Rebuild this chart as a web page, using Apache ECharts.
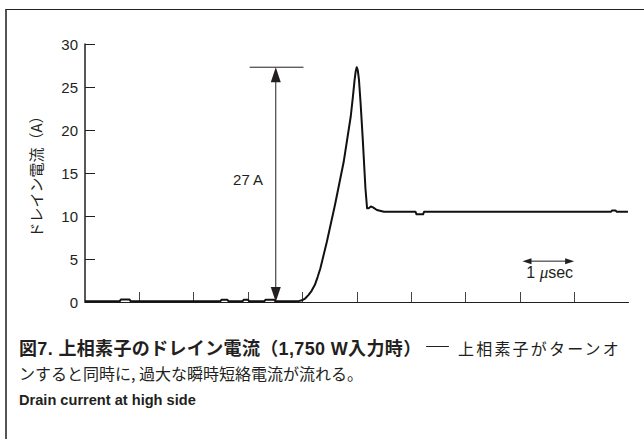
<!DOCTYPE html>
<html>
<head>
<meta charset="utf-8">
<script src="https://cdn.jsdelivr.net/npm/echarts@6/dist/echarts.min.js"></script>
<style>
  html, body { margin: 0; padding: 0; background: #fff; }
  #wrap { position: relative; width: 644px; height: 439px; overflow: hidden; }
  #frame { position: absolute; left: 5px; top: 9px; width: 639px; height: 430px;
           border-top: 1px solid #222; border-left: 2px solid #555; box-sizing: border-box; }
  #chart { position: absolute; left: 0; top: 0; width: 644px; height: 439px; }
  .cap { position: absolute; color: #231f20; white-space: nowrap; }
  #cap1b { left: 19px; top: 334px; font: bold 18px 'Liberation Sans', 'Noto Sans CJK JP', sans-serif; letter-spacing: 0.35px; }
  #cap1d { left: 426px; top: 333px; font: 23px/1 'Liberation Sans', sans-serif; transform: scaleY(0.6); transform-origin: 0 60%; }
  #cap1r { left: 458px; top: 336px; font: 16px 'Noto Sans CJK JP', sans-serif; letter-spacing: 2.2px; }
  #cap2 { left: 19px; top: 361px; font: 16px 'Noto Sans CJK JP', sans-serif; }
  #cap3 { left: 19px; top: 392px; font: bold 14.6px 'Liberation Sans', sans-serif; }
</style>
</head>
<body>
<div id="wrap">
  <div id="frame"></div>
  <div id="chart"></div>
  <div class="cap" id="cap1b">図7. 上相素子のドレイン電流（1,750 W入力時）</div>
  <div class="cap" id="cap1d">—</div>
  <div class="cap" id="cap1r">上相素子がターンオ</div>
  <div class="cap" id="cap2">ンすると同時に, 過大な瞬時短絡電流が流れる。</div>
  <div class="cap" id="cap3">Drain current at high side</div>
</div>
<script>
// ---- data (time in microseconds, current in A) ----
const timeUs = [0, 0.64, 0.66, 0.82, 0.84, 2.49, 2.51, 2.62, 2.64, 2.9, 2.92, 3.0, 3.02, 3.3, 3.32, 3.48, 3.5,
  3.93, 3.99, 4.05, 4.11, 4.17, 4.23, 4.28, 4.33, 4.45, 4.6, 4.76, 4.89, 4.93, 4.96, 4.98, 5.0, 5.02, 5.04,
  5.07, 5.11, 5.16, 5.19, 5.22, 5.26, 5.3, 5.37, 5.5, 6.08, 6.1, 6.22, 6.24, 9.68, 9.7, 9.76, 9.78, 9.99];
const currentA = [0.1, 0.1, 0.3, 0.3, 0.1, 0.1, 0.25, 0.25, 0.1, 0.1, 0.25, 0.25, 0.1, 0.1, 0.25, 0.25, 0.1,
  0.1, 0.2, 0.4, 0.8, 1.3, 2.0, 2.9, 3.9, 7.0, 11.3, 16.3, 21.6, 23.9, 25.8, 26.8, 27.3, 26.9, 25.9,
  23.2, 19.0, 13.2, 10.9, 10.9, 11.1, 11.0, 10.7, 10.5, 10.5, 10.2, 10.2, 10.5, 10.5, 10.65, 10.65, 10.5, 10.5];
const xTickValues = [1, 2, 3, 4, 5, 6, 7, 8, 9];
const yTickValues = [0, 5, 10, 15, 20, 25, 30];

// annotation: 27 A peak arrow  [arrowX, fromY, toY, capStartX, capEndX]
const peakArrow = [[3.51, 0, 27.3, 3.03, 4.02]];
const peakLabel = [[3.0, 14.2, '27 A']];
// annotation: 1 μs scale arrow [startX, endX, y, labelX, labelY]
const scaleArrow = [[8.05, 9.0, 4.75, 8.55, 3.4]];

const ink = '#231f20';
const chart = echarts.init(document.getElementById('chart'), null, { renderer: 'svg' });

function arrowHead(tip, dx, dy, len, half) {
  const bx = tip[0] + dx * len, by = tip[1] + dy * len;
  return [[tip[0], tip[1]], [bx - dy * half, by + dx * half], [bx + dy * half, by - dx * half]];
}

chart.setOption({
  animation: false,
  grid: { left: 85, right: 15.5, top: 44, bottom: 137, containLabel: false },
  xAxis: {
    type: 'value', min: 0, max: 10, interval: 1,
    axisLine: { lineStyle: { color: ink, width: 1.2 } },
    axisTick: { inside: true, length: 10, customValues: xTickValues, lineStyle: { color: '#444', width: 1 } },
    axisLabel: { show: false },
    splitLine: { show: false }
  },
  yAxis: {
    type: 'value', min: 0, max: 30, interval: 5,
    name: 'ドレイン電流（A）', nameLocation: 'middle', nameGap: 42, nameRotate: 90,
    nameTextStyle: { fontFamily: 'Noto Sans CJK JP', fontSize: 15, color: ink },
    axisLine: { show: true, lineStyle: { color: ink, width: 1.5 } },
    axisTick: { show: true, inside: true, length: 10, customValues: yTickValues, lineStyle: { color: ink, width: 1 } },
    axisLabel: { margin: 7, fontFamily: 'Liberation Sans', fontSize: 15, color: ink },
    splitLine: { show: false }
  },
  series: [
    {
      type: 'line',
      data: timeUs.map((t, i) => [t, currentA[i]]),
      showSymbol: false,
      smooth: false,
      lineStyle: { color: '#111', width: 2, join: 'round' },
      z: 3
    },
    {
      type: 'custom',
      data: peakArrow,
      renderItem: function (params, api) {
        const x = api.value(0), y0 = api.value(1), y1 = api.value(2);
        const pB = api.coord([x, y0]), pT = api.coord([x, y1]);
        const c0 = api.coord([api.value(3), y1]), c1 = api.coord([api.value(4), y1]);
        const st = { stroke: ink, lineWidth: 1 };
        return {
          type: 'group', children: [
            { type: 'line', shape: { x1: c0[0], y1: c0[1], x2: c1[0], y2: c1[1] }, style: st },
            { type: 'line', shape: { x1: pB[0], y1: pB[1] - 10, x2: pT[0], y2: pT[1] + 10 }, style: st },
            { type: 'polygon', shape: { points: arrowHead(pT, 0, 1, 15, 5) }, style: { fill: ink } },
            { type: 'polygon', shape: { points: arrowHead(pB, 0, -1, 15, 5) }, style: { fill: ink } }
          ]
        };
      },
      z: 2
    },
    {
      type: 'custom',
      data: peakLabel,
      renderItem: function (params, api) {
        const p = api.coord([api.value(0), api.value(1)]);
        return {
          type: 'text', x: p[0], y: p[1],
          style: { text: peakLabel[params.dataIndex][2], fill: ink, align: 'center', verticalAlign: 'middle',
                   font: '15px "Liberation Sans", sans-serif' }
        };
      }
    },
    {
      type: 'custom',
      data: scaleArrow,
      renderItem: function (params, api) {
        const a = api.coord([api.value(0), api.value(2)]), b = api.coord([api.value(1), api.value(2)]);
        const l = api.coord([api.value(3), api.value(4)]);
        return {
          type: 'group', children: [
            { type: 'line', shape: { x1: a[0] + 6, y1: a[1], x2: b[0] - 6, y2: b[1] }, style: { stroke: ink, lineWidth: 1 } },
            { type: 'polygon', shape: { points: arrowHead(a, 1, 0, 9, 3) }, style: { fill: ink } },
            { type: 'polygon', shape: { points: arrowHead(b, -1, 0, 9, 3) }, style: { fill: ink } },
            { type: 'text', x: l[0], y: l[1], style: {
                text: '1 {mu|μ}sec', fill: ink, align: 'center', verticalAlign: 'middle',
                font: '16px "Liberation Sans", sans-serif',
                rich: { mu: { fontFamily: 'Liberation Serif', fontStyle: 'italic', fontSize: 17, fill: ink } }
              } }
          ]
        };
      }
    }
  ]
});
</script>
</body>
</html>
